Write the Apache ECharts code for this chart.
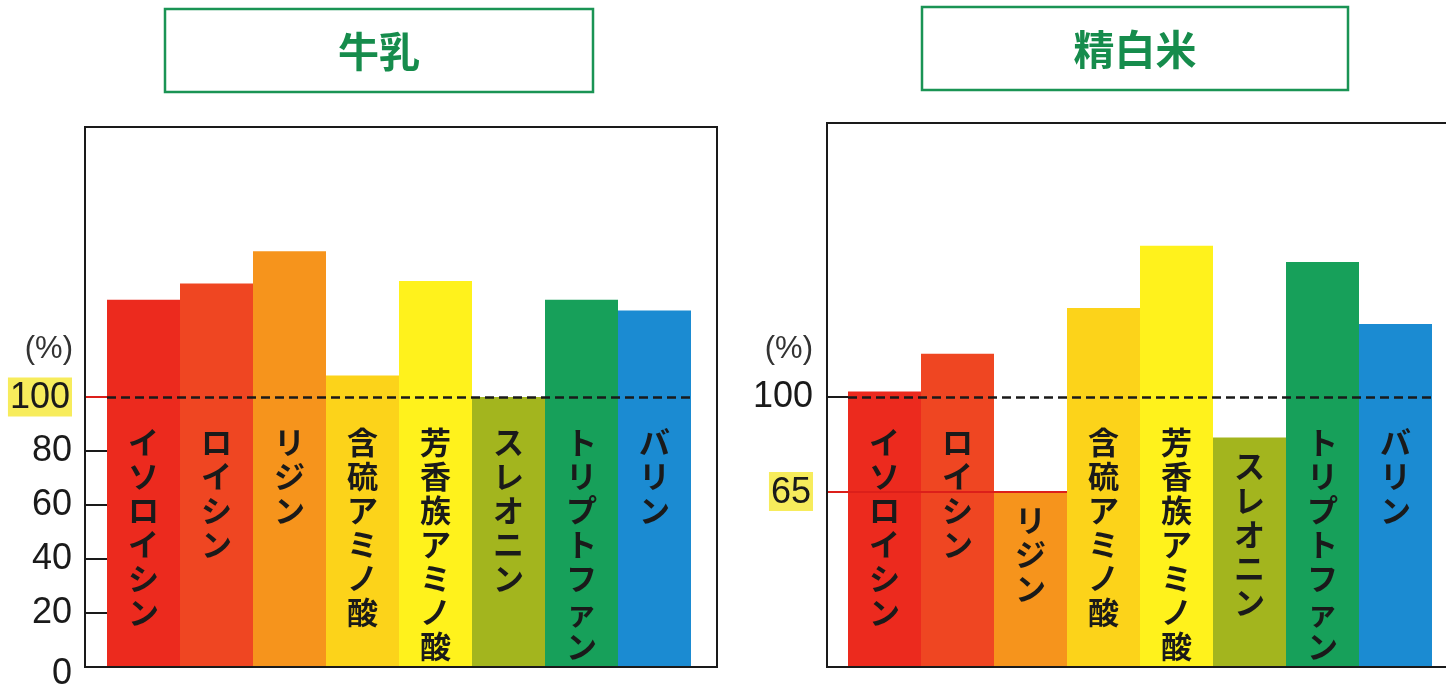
<!DOCTYPE html>
<html>
<head>
<meta charset="utf-8">
<script src="https://cdn.jsdelivr.net/npm/echarts@6/dist/echarts.min.js"></script>
<style>
  html, body { margin: 0; padding: 0; background: #fff; }
  #chart { width: 1446px; height: 684px; }
</style>
</head>
<body>
<div id="chart"></div>
<script>
// Essential amino acid scores: milk vs. polished rice (% of reference pattern)
const categories = ['イソロイシン', 'ロイシン', 'リジン', '含硫アミノ酸', '芳香族アミノ酸', 'スレオニン', 'トリプトファン', 'バリン'];
const milkValues = [136, 142, 154, 108, 143, 100, 136, 132];
const riceValues = [102, 116, 65, 133, 156, 85, 150, 127];

const milkTitle = '牛乳';
const riceTitle = '精白米';
const unitLabel = '(%)';

const milkAxisLabels = [0, 20, 40, 60, 80, 100];
const milkBlackTicks = [20, 40, 60, 80];
const milkRedTicks = [100];
const milkHighlight = 100;

const riceAxisLabels = [65, 100];
const riceBlackTicks = [100];
const riceRedTicks = [65];
const riceHighlight = 65;

const referenceLevel = 100;

// palette, one colour per amino acid
const barColors = ['#ec2a1e', '#ef4622', '#f6941c', '#fcd31a', '#fff21c', '#a3b51e', '#17a05a', '#1b8bd2'];

const GREEN = '#1a9454';
const INK = '#1a1a1a';
const RED = '#dc1f1a';
const LABEL_CAP = 94;            // bar names hang from this level on tall bars
const TICK_LEN = 22;
const BAR_W = 73;

function buildPanel(idx, cfg) {
  const grid = {
    left: cfg.left, top: 127, width: BAR_W * 8, height: 540,
    outerBoundsMode: 'none'
  };
  const xAxis = {
    gridIndex: idx, type: 'category', data: categories, show: false
  };
  const yMain = {
    gridIndex: idx, type: 'value', min: 0, max: 200, position: 'left', offset: TICK_LEN,
    axisLine: { show: false },
    splitLine: { show: false },
    axisTick: {
      show: true, inside: true, length: TICK_LEN, customValues: cfg.blackTicks,
      lineStyle: { color: INK, width: 2 }
    },
    axisLabel: {
      customValues: cfg.axisLabels, margin: 13,
      fontFamily: 'Liberation Sans', fontSize: 36, color: INK,
      formatter: v => v === cfg.highlight ? '{hl|' + v + '}' : (v === 0 ? '{low|0}' : String(v)),
      rich: {
        hl: {
          fontFamily: 'Liberation Sans', fontSize: 36, color: INK,
          backgroundColor: '#f7ec5c', padding: [3, 2, 0, 2]
        },
        low: {
          fontFamily: 'Liberation Sans', fontSize: 36, color: INK,
          padding: [14, 0, 0, 0]
        }
      }
    }
  };
  const yRed = {
    gridIndex: idx, type: 'value', min: 0, max: 200, position: 'left', offset: TICK_LEN,
    z: 10,
    axisLine: { show: false },
    splitLine: { show: false },
    axisLabel: { show: false },
    axisTick: {
      show: true, inside: true, length: cfg.redLen, customValues: cfg.redTicks,
      lineStyle: { color: RED, width: 2 }
    }
  };
  const bars = {
    type: 'bar', xAxisIndex: idx, yAxisIndex: idx * 2,
    barCategoryGap: '0%', barGap: '-100%',
    data: cfg.values.map((v, i) => ({ value: v, itemStyle: { color: barColors[i] } })),
    markLine: {
      silent: true, symbol: 'none', label: { show: false },
      lineStyle: { color: INK, type: [9, 5], width: 2.5 },
      data: [{ yAxis: referenceLevel }]
    },
    z: 2
  };
  const names = {
    type: 'bar', xAxisIndex: idx, yAxisIndex: idx * 2,
    barCategoryGap: '0%', barGap: '-100%',
    data: cfg.values.map(v => Math.min(v, LABEL_CAP)),
    itemStyle: { color: 'rgba(0,0,0,0)' },
    label: {
      show: true, position: 'insideTop', distance: 12,
      formatter: p => categories[p.dataIndex].split('').join('\n'),
      fontFamily: 'Noto Sans CJK JP', fontWeight: 'bold',
      fontSize: 31, lineHeight: 34, color: INK
    },
    z: 3
  };
  return { grid, xAxis, yAxes: [yMain, yRed], series: [bars, names] };
}

const milk = buildPanel(0, {
  left: 107, values: milkValues, axisLabels: milkAxisLabels, blackTicks: milkBlackTicks,
  redTicks: milkRedTicks, highlight: milkHighlight, redLen: TICK_LEN
});
const rice = buildPanel(1, {
  left: 848, values: riceValues, axisLabels: riceAxisLabels, blackTicks: riceBlackTicks,
  redTicks: riceRedTicks, highlight: riceHighlight,
  redLen: TICK_LEN + BAR_W * (riceValues.indexOf(riceHighlight) + 1)
});

function titleBox(x, y, w, h, text) {
  return {
    type: 'group', z: 100,
    children: [
      { type: 'rect', shape: { x: x, y: y, width: w, height: h },
        style: { fill: '#fff', stroke: GREEN, lineWidth: 2.5 } },
      { type: 'text', style: {
          text: text, x: x + w / 2, y: y + h / 2 + 1, align: 'center', verticalAlign: 'middle',
          font: 'bold 41px "Noto Sans CJK JP"', fill: '#168c4c' } }
    ]
  };
}

function frame(x, y, w, h) {
  return { type: 'rect', z: 100, silent: true, shape: { x: x, y: y, width: w, height: h },
           style: { fill: null, stroke: INK, lineWidth: 2 } };
}

function unitText(x, y) {
  return { type: 'text', z: 100, style: {
    text: unitLabel, x: x, y: y, align: 'right', verticalAlign: 'middle',
    font: '31px "Liberation Sans"', fill: '#333' } };
}

const option = {
  animation: false,
  backgroundColor: '#fff',
  grid: [milk.grid, rice.grid],
  xAxis: [milk.xAxis, rice.xAxis],
  yAxis: [...milk.yAxes, ...rice.yAxes],
  series: [...milk.series, ...rice.series],
  graphic: [
    titleBox(165, 9, 428, 83, milkTitle),
    titleBox(922, 7, 426, 83, riceTitle),
    frame(85, 127, 632, 540),
    frame(827, 123, 640, 544),
    unitText(73, 349),
    unitText(813, 349)
  ]
};

const chart = echarts.init(document.getElementById('chart'), null, { renderer: 'canvas' });
chart.setOption(option);
</script>
</body>
</html>
